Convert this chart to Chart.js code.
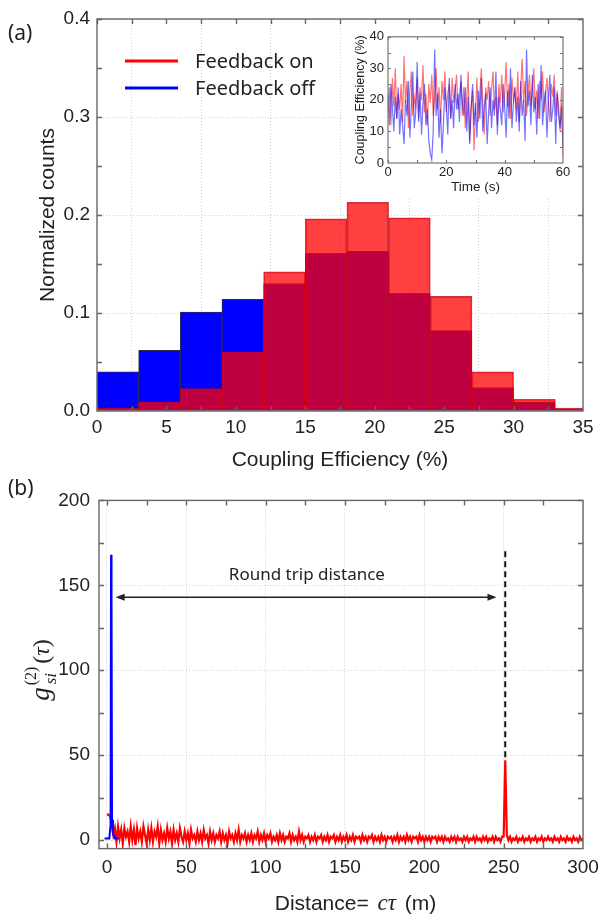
<!DOCTYPE html>
<html>
<head>
<meta charset="utf-8">
<title>Coupling efficiency and g2</title>
<script src="https://cdn.jsdelivr.net/npm/chart.js@4.4.1/dist/chart.umd.min.js"></script>
<style>
    body { margin: 0; background: #fff; }
    #wrap { position: relative; width: 602px; height: 918px; overflow: hidden; }
    canvas { position: absolute; }
    #histChart { left: 0; top: 0; }
    #g2Chart { left: 0; top: 480px; }
    #insetChart { left: 343px; top: 25px; background: #fff; }
    .panel { position: absolute; font-family: "Noto Sans"; font-size: 21px; color: #222; line-height: 28px; }
</style>
</head>
<body>
<div id="wrap">
    <canvas id="histChart" width="602" height="480"></canvas>
    <canvas id="g2Chart" width="602" height="438"></canvas>
    <canvas id="insetChart" width="234" height="172"></canvas>
    <div class="panel" style="left:8px;top:18px">(a)</div>
    <div class="panel" style="left:8px;top:473px">(b)</div>
</div>
<script>
// histogram bins (3 % wide) and normalized counts
const binCenters = [1.5, 4.5, 7.5, 10.5, 13.5, 16.5, 19.5, 22.5, 25.5, 28.5, 31.5, 34.5];
const countsOn = [0.003, 0.009, 0.023, 0.060, 0.142, 0.196, 0.213, 0.197, 0.117, 0.040, 0.012, 0.003];
const countsOff = [0.040, 0.062, 0.101, 0.114, 0.130, 0.161, 0.163, 0.120, 0.082, 0.024, 0.009, 0.002];

// inset time traces, one sample every 0.5 s
const insetStep = 0.5;
const traceOn = [
    16, 24, 12, 27, 18, 30, 14, 22, 17, 25,
    13, 34, 19, 26, 11, 23, 29, 15, 21, 18,
    27, 14, 24, 20, 31, 16, 22, 12, 25, 19,
    28, 15, 21, 30, 17, 24, 13, 26, 20, 29,
    16, 22, 25, 14, 27, 19, 23, 28, 17, 21,
    26, 15, 24, 11, 20, 29, 7, 18, 23, 4,
    16, 27, 13, 22, 30, 18, 9, 24, 20, 26,
    15, 23, 29, 17, 21, 12, 25, 19, 28, 16,
    22, 32, 18, 25, 14, 27, 20, 23, 17, 29,
    13, 24, 33, 19, 26, 15, 22, 28, 18, 24,
    30, 17, 23, 14, 26, 20, 29, 16, 22, 27,
    19, 13, 25, 21, 28, 15, 23, 18, 10, 24,
    2
];
const traceOff = [
    22, 12, 25, 18, 10, 21, 14, 24, 9, 17,
    12, 6, 20, 15, 26, 8, 18, 29, 11, 16,
    32, 13, 22, 9, 19, 25, 12, 17, 7, 3,
    1, 10, 36, 15, 22, 8, 17, 3, 12, 24,
    18, 9, 27, 14, 20, 11, 25, 17, 22, 13,
    28, 19, 15, 24, 10, 21, 6, 17, 25, 12,
    19, 8, 23, 14, 27, 10, 18, 22, 6, 16,
    24, 11, 20, 15, 29, 9, 21, 17, 12, 25,
    18, 8, 23, 14, 30, 11, 19, 24, 13, 21,
    10, 26, 15, 20, 7, 36, 18, 23, 12, 28,
    16, 21, 9, 25, 14, 31, 12, 19, 23, 8,
    20, 28, 13, 17, 24, 6, 22, 15, 11, 18,
    5
];

// g2 vs distance, feedback on: one sample per metre
const distStep = 1;
const g2On = [
    15, 15, 14, 10, 3, 7, -1, 8, 1, 6,
    -2, 7, 2, 5, -1, 8, 0, 6, -3, 7,
    1, 5, -1, 8, 3, -2, 6, 0, 7, -1,
    5, 2, 8, -2, 6, 0, 4, -1, 7, 1,
    5, -2, 6, 0, 4, -1, 7, 2, -1, 5,
    0, 4, -2, 6, 1, 3, -1, 5, 0, 4,
    -1, 6, 1, 3, -2, 5, 0, 4, -1, 3,
    1, 5, -1, 4, 0, 3, -2, 5, 1, 3,
    -1, 4, 0, 6, -1, 3, 1, 4, -1, 3,
    0, 4, -1, 3, 1, 5, -1, 3, 0, 4,
    -1, 3, 1, 4, -1, 2, 0, 3, -1, 4,
    0, 3, -1, 2, 1, 4, -1, 3, 0, 2,
    -1, 5, 0, 3, -1, 2, 1, 3, -1, 2,
    0, 3, -1, 2, 1, 3, -1, 2, 0, 3,
    -1, 2, 1, 3, -1, 2, 0, 3, -1, 2,
    0, 3, -1, 2, 0, 3, -1, 2, 1, 2,
    -1, 3, 0, 2, -1, 2, 1, 3, -1, 2,
    0, 2, -1, 3, 0, 2, -1, 2, 1, 2,
    -1, 2, 0, 3, -1, 2, 0, 2, -1, 3,
    0, 2, -1, 2, 1, 2, -1, 3, 0, 2,
    -1, 2, 0, 2, -1, 2, 1, 2, -1, 2,
    0, 2, -1, 2, 0, 1, -1, 2, 0, 2,
    -1, 2, 0, 1, -1, 2, 0, 2, -1, 1,
    0, 2, -1, 2, 0, 1, -1, 2, 0, 2,
    -1, 1, 0, 2, -1, 2, 0, 1, -1, 2,
    2, 47, 3, 0, 2, -1, 1, 0, 2, -1,
    1, 0, 2, -1, 1, 0, 2, -1, 1, 0,
    2, -1, 1, 0, 2, -1, 1, 0, 2, 0,
    1, -1, 2, 0, 1, -1, 2, 0, 1, -1,
    2, 0, 1, -1, 2, 0, 1, -1, 2, 0,
    1
];
// feedback off: short trace around zero delay
const offDist = [-1.5, 1.5, 2.3, 2.6, 2.9, 3.2, 3.8, 5, 7.5];
const g2Off = [1, 1, 9, 168, 141, 12, 4, 1, 1];

const distTicks = [0, 50, 100, 150, 200, 250, 300];
const g2Ticks = [0, 50, 100, 150, 200];
const roundTripDistance = 251;

const TICK_FONT = { family: "Liberation Sans", size: 19 };
const TEXT_COLOR = "#222";
const FRAME_COLOR = "#666";

function points(xs, ys) {
    return ys.map((y, i) => ({ x: xs[i], y: y }));
}
function sampled(step, ys) {
    return ys.map((y, i) => ({ x: i * step, y: y }));
}
// keep the plot edges where they are set, whatever the end labels need
function fixHeight(h) {
    return s => { s.height = h; s.paddingLeft = 0; s.paddingRight = 0; };
}

// box round the plot area with short inward ticks on all four sides
const frameTicks = {
    id: "frameTicks",
    afterDatasetsDraw(chart, args, opts) {
        const { ctx, chartArea: a, scales: { x, y } } = chart;
        ctx.save();
        ctx.strokeStyle = opts.color;
        ctx.lineWidth = opts.width;
        ctx.beginPath();
        for (let v = opts.xStart; v <= x.max + 1e-9; v += opts.xStep) {
            const px = Math.round(x.getPixelForValue(v)) + 0.5;
            if (px < a.left || px > a.right) continue;
            ctx.moveTo(px, a.bottom); ctx.lineTo(px, a.bottom - opts.len);
            ctx.moveTo(px, a.top); ctx.lineTo(px, a.top + opts.len);
        }
        for (let v = opts.yStart; v <= y.max + 1e-9; v += opts.yStep) {
            const py = Math.round(y.getPixelForValue(v)) + 0.5;
            if (py < a.top || py > a.bottom) continue;
            ctx.moveTo(a.left, py); ctx.lineTo(a.left + opts.len, py);
            ctx.moveTo(a.right, py); ctx.lineTo(a.right - opts.len, py);
        }
        ctx.stroke();
        ctx.strokeRect(a.left, a.top, a.width, a.height);
        ctx.restore();
    }
};

// line-style legend inside panel (a)
const lineLegend = {
    id: "lineLegend",
    afterDraw(chart, args, opts) {
        const ctx = chart.ctx;
        ctx.save();
        ctx.font = opts.font;
        ctx.textBaseline = "middle";
        chart.data.datasets.forEach((ds, i) => {
            const y = opts.top + i * opts.rowGap;
            ctx.strokeStyle = ds.legendColor;
            ctx.lineWidth = 3;
            ctx.beginPath();
            ctx.moveTo(opts.left, y);
            ctx.lineTo(opts.left + opts.lineLen, y);
            ctx.stroke();
            ctx.fillStyle = TEXT_COLOR;
            ctx.fillText(ds.label, opts.left + opts.lineLen + opts.gap, y + 1);
        });
        ctx.restore();
    }
};

new Chart(document.getElementById("histChart"), {
    type: "bar",
    data: {
        datasets: [
            {
                label: "Feedback on",
                data: points(binCenters, countsOn),
                backgroundColor: "rgba(255, 0, 0, 0.75)",
                borderColor: "rgba(205, 0, 20, 0.8)",
                borderWidth: 1,
                legendColor: "#ff0000",
                grouped: false,
                barPercentage: 1,
                categoryPercentage: 1
            },
            {
                label: "Feedback off",
                data: points(binCenters, countsOff),
                backgroundColor: "#0000ff",
                borderColor: "#2a2a55",
                borderWidth: 1,
                legendColor: "#0000ff",
                grouped: false,
                barPercentage: 1,
                categoryPercentage: 1
            }
        ]
    },
    options: {
        responsive: false,
        animation: false,
        layout: { padding: { top: 19, right: 19, left: 0, bottom: 0 } },
        plugins: {
            legend: { display: false },
            tooltip: { enabled: false },
            frameTicks: { color: FRAME_COLOR, width: 1.4, len: 5, xStart: 0, xStep: 2.5, yStart: 0, yStep: 0.05 },
            lineLegend: { left: 125, top: 61, rowGap: 27, lineLen: 53, gap: 17, font: '20px "Noto Sans"' }
        },
        scales: {
            x: {
                type: "linear",
                min: 0,
                max: 35,
                offset: false,
                ticks: { stepSize: 5, font: TICK_FONT, color: TEXT_COLOR, padding: 5, maxRotation: 0 },
                grid: { color: "#cfcfcf", drawTicks: false },
                border: { display: false, dash: [1, 2] },
                title: {
                    display: true,
                    text: "Coupling Efficiency (%)",
                    font: { family: "Liberation Sans", size: 21 },
                    color: TEXT_COLOR,
                    padding: { top: 0, bottom: 7 }
                },
                afterFit: fixHeight(69)
            },
            y: {
                min: 0,
                max: 0.4,
                ticks: { stepSize: 0.1, font: TICK_FONT, color: TEXT_COLOR, padding: 7, callback: v => v.toFixed(1) },
                grid: { color: "#cfcfcf", drawTicks: false },
                border: { display: false, dash: [1, 2] },
                title: {
                    display: true,
                    text: "Normalized counts",
                    font: { family: "Liberation Sans", size: 21 },
                    color: TEXT_COLOR,
                    padding: { top: 36, bottom: 0 }
                },
                afterFit: s => { s.width = 97; }
            }
        }
    },
    plugins: [frameTicks, lineLegend]
});

new Chart(document.getElementById("insetChart"), {
    type: "line",
    data: {
        datasets: [
            {
                label: "Feedback off",
                data: sampled(insetStep, traceOff),
                borderColor: "rgba(0, 0, 255, 0.55)",
                borderWidth: 1.2,
                pointRadius: 0
            },
            {
                label: "Feedback on",
                data: sampled(insetStep, traceOn),
                borderColor: "rgba(255, 0, 0, 0.55)",
                borderWidth: 1.2,
                pointRadius: 0
            }
        ]
    },
    options: {
        responsive: false,
        animation: false,
        layout: { padding: { top: 10, right: 14, left: 0, bottom: 0 } },
        plugins: {
            legend: { display: false },
            tooltip: { enabled: false },
            frameTicks: { color: "#777", width: 1.2, len: 3, xStart: 0, xStep: 10, yStart: 0, yStep: 5 }
        },
        scales: {
            x: {
                type: "linear",
                min: 0,
                max: 60,
                ticks: { stepSize: 20, font: { family: "Liberation Sans", size: 13 }, color: TEXT_COLOR, padding: 2, maxRotation: 0 },
                grid: { display: false, drawTicks: false },
                border: { display: false },
                title: {
                    display: true,
                    text: "Time (s)",
                    font: { family: "Liberation Sans", size: 13.5 },
                    color: TEXT_COLOR,
                    padding: { top: 0, bottom: 2 }
                },
                afterFit: fixHeight(34)
            },
            y: {
                min: 0,
                max: 40,
                ticks: { stepSize: 10, font: { family: "Liberation Sans", size: 13 }, color: TEXT_COLOR, padding: 4 },
                grid: { display: false, drawTicks: false },
                border: { display: false },
                title: {
                    display: true,
                    text: "Coupling Efficiency (%)",
                    font: { family: "Liberation Sans", size: 12.5 },
                    color: TEXT_COLOR,
                    padding: { top: 10, bottom: 0 }
                },
                afterFit: s => { s.width = 45; }
            }
        }
    },
    plugins: [frameTicks]
});

// round-trip marker, arrow and the two axis titles with math symbols
const g2Notes = {
    id: "g2Notes",
    afterDraw(chart, args, opts) {
        const { ctx, scales: { x, y } } = chart;
        ctx.save();

        const rx = x.getPixelForValue(opts.roundTrip);
        ctx.strokeStyle = "#111";
        ctx.lineWidth = 2;
        ctx.setLineDash([6, 4]);
        ctx.beginPath();
        ctx.moveTo(rx, y.getPixelForValue(opts.dashTop));
        ctx.lineTo(rx, y.getPixelForValue(opts.dashBottom));
        ctx.stroke();
        ctx.setLineDash([]);

        const ay = y.getPixelForValue(opts.arrowY);
        const ax0 = x.getPixelForValue(opts.arrowFrom);
        const ax1 = x.getPixelForValue(opts.arrowTo);
        ctx.lineWidth = 1.6;
        ctx.strokeStyle = "#222";
        ctx.fillStyle = "#222";
        ctx.beginPath();
        ctx.moveTo(ax0 + 4, ay);
        ctx.lineTo(ax1 - 4, ay);
        ctx.stroke();
        [[ax0, 1], [ax1, -1]].forEach(([px, dir]) => {
            ctx.beginPath();
            ctx.moveTo(px, ay);
            ctx.lineTo(px + dir * 9, ay - 3.5);
            ctx.lineTo(px + dir * 9, ay + 3.5);
            ctx.closePath();
            ctx.fill();
        });

        ctx.font = '17px "Noto Sans"';
        ctx.textAlign = "center";
        ctx.textBaseline = "middle";
        ctx.fillText(opts.label, x.getPixelForValue(opts.labelX), y.getPixelForValue(opts.labelY));

        // x title: Distance= cτ (m)
        const sans = '21px "Liberation Sans"';
        const ital = 'italic 23px "Liberation Serif"';
        const parts = [["Distance= ", sans], ["c\u03c4", ital], [" (m)", sans]];
        let total = 0;
        parts.forEach(p => { ctx.font = p[1]; total += ctx.measureText(p[0]).width + 3; });
        let cx = opts.xTitle.cx - total / 2;
        ctx.textAlign = "left";
        ctx.textBaseline = "alphabetic";
        ctx.fillStyle = TEXT_COLOR;
        parts.forEach(p => {
            ctx.font = p[1];
            ctx.fillText(p[0], cx, opts.xTitle.baseline);
            cx += ctx.measureText(p[0]).width + 3;
        });

        // y title: g_si^(2)(τ), rotated
        ctx.translate(opts.yTitle.baseline, opts.yTitle.cy);
        ctx.rotate(-Math.PI / 2);
        const gFont = 'italic 27px "Liberation Serif"';
        const subFont = 'italic 17px "Liberation Serif"';
        const supFont = '16px "Liberation Serif"';
        const parFont = '24px "Liberation Serif"';
        const tauFont = 'italic 24px "Liberation Serif"';
        ctx.font = gFont; const gW = ctx.measureText("g").width;
        ctx.font = subFont; const subW = ctx.measureText("si").width;
        ctx.font = supFont; const supW = ctx.measureText("(2)").width;
        ctx.font = parFont; const pW = ctx.measureText("(").width;
        ctx.font = tauFont; const tW = ctx.measureText("\u03c4").width;
        const scriptW = Math.max(subW, supW);
        const len = gW + 2 + scriptW + 3 + pW * 2 + tW;
        let tx = -len / 2;
        ctx.font = gFont; ctx.fillText("g", tx, 0); tx += gW + 2;
        ctx.font = subFont; ctx.fillText("si", tx + 1, 7);
        ctx.font = supFont; ctx.fillText("(2)", tx, -13); tx += scriptW + 3;
        ctx.font = parFont; ctx.fillText("(", tx, 0); tx += pW;
        ctx.font = tauFont; ctx.fillText("\u03c4", tx, 0); tx += tW;
        ctx.font = parFont; ctx.fillText(")", tx, 0);

        ctx.restore();
    }
};

new Chart(document.getElementById("g2Chart"), {
    type: "line",
    data: {
        datasets: [
            {
                label: "Feedback off",
                data: points(offDist, g2Off),
                borderColor: "#0000ff",
                borderWidth: 2,
                pointRadius: 0
            },
            {
                label: "Feedback on",
                data: sampled(distStep, g2On),
                borderColor: "#ff0000",
                borderWidth: 2.2,
                pointRadius: 0
            }
        ]
    },
    options: {
        responsive: false,
        animation: false,
        layout: { padding: { top: 16, right: 19, left: 0, bottom: 0 } },
        plugins: {
            legend: { display: false },
            tooltip: { enabled: false },
            frameTicks: { color: FRAME_COLOR, width: 1.4, len: 5, xStart: 0, xStep: 25, yStart: 0, yStep: 25 },
            g2Notes: {
                roundTrip: roundTripDistance,
                dashTop: 170,
                dashBottom: 48,
                arrowY: 143,
                arrowFrom: 5.5,
                arrowTo: 245.5,
                label: "Round trip distance",
                labelX: 126,
                labelY: 156,
                xTitle: { cx: 357, baseline: 430 },
                yTitle: { baseline: 49, cy: 190 }
            }
        },
        scales: {
            x: {
                type: "linear",
                min: -5,
                max: 300,
                afterBuildTicks: s => { s.ticks = distTicks.map(v => ({ value: v })); },
                ticks: { font: TICK_FONT, color: TEXT_COLOR, padding: 8, maxRotation: 0 },
                grid: { color: "#cfcfcf", drawTicks: false },
                border: { display: false, dash: [1, 2] },
                afterFit: fixHeight(69.4)
            },
            y: {
                min: -5,
                max: 200,
                afterBuildTicks: s => { s.ticks = g2Ticks.map(v => ({ value: v })); },
                ticks: { font: TICK_FONT, color: TEXT_COLOR, padding: 9 },
                grid: { color: "#cfcfcf", drawTicks: false },
                border: { display: false, dash: [1, 2] },
                afterFit: s => { s.width = 99; }
            }
        }
    },
    plugins: [frameTicks, g2Notes]
});
</script>
</body>
</html>
